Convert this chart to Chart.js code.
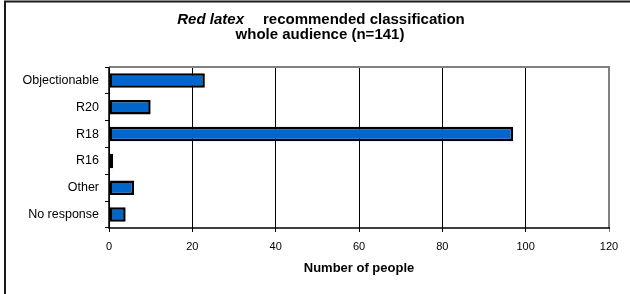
<!DOCTYPE html>
<html>
<head>
<meta charset="utf-8">
<script src="https://cdn.jsdelivr.net/npm/chart.js@4/dist/chart.umd.min.js"></script>
<style>
  html, body { margin: 0; padding: 0; background: #fff; }
  #wrap { position: relative; width: 630px; height: 294px; }
</style>
</head>
<body>
<div id="wrap"><canvas id="c" width="630" height="294"></canvas></div>
<script>
const categories = ["Objectionable", "R20", "R18", "R16", "Other", "No response"];
const values = [23, 10, 97, 1, 6, 4];
const titleItalic = "Red latex";
const titleRest = "recommended classification";
const subtitle = "whole audience (n=141)";
const xTitle = "Number of people";
const xMin = 0, xMax = 120, xStep = 20;

const FONT = "'Liberation Sans', Arial, sans-serif";
const PLOT = { left: 109, right: 609, top: 67, bottom: 228 };
const BOTTOM_PAD = 18;

const decor = {
  id: 'decor',
  beforeDraw(chart) {
    const c = chart.ctx;
    c.save();
    c.fillStyle = '#fff';
    c.fillRect(0, 0, chart.width, chart.height);
    c.strokeStyle = '#1a1a1a';
    c.lineWidth = 2;
    c.beginPath();
    c.moveTo(5, 294);
    c.lineTo(5, 1.5);
    c.lineTo(630, 1.5);
    c.stroke();
    c.restore();
  },
  afterDatasetsDraw(chart) {
    const c = chart.ctx;
    const a = chart.chartArea;
    c.save();
    c.strokeStyle = '#808080';
    c.lineWidth = 2;
    c.beginPath();
    c.moveTo(a.left, a.top);
    c.lineTo(a.right, a.top);
    c.lineTo(a.right, a.bottom);
    c.stroke();
    c.strokeStyle = '#000';
    c.lineWidth = 1.5;
    c.beginPath();
    c.moveTo(a.left, a.top);
    c.lineTo(a.left, a.bottom);
    c.lineTo(a.right + 1, a.bottom);
    c.stroke();
    c.fillStyle = '#000';
    c.textBaseline = 'alphabetic';
    c.textAlign = 'left';
    const cx = 321;
    const gap = 19;
    c.font = "italic bold 15px " + FONT;
    const w1 = c.measureText(titleItalic).width;
    c.font = "bold 15px " + FONT;
    const w2 = c.measureText(titleRest).width;
    let x = cx - (w1 + gap + w2) / 2;
    c.font = "italic bold 15px " + FONT;
    c.fillText(titleItalic, x, 24);
    c.font = "bold 15px " + FONT;
    c.fillText(titleRest, x + w1 + gap, 24);
    c.textAlign = 'center';
    c.fillText(subtitle, 320, 38.5);
    c.restore();
  }
};

new Chart(document.getElementById('c'), {
  type: 'bar',
  data: {
    labels: categories,
    datasets: [{
      data: values,
      backgroundColor: '#0066CC',
      borderColor: '#000',
      borderWidth: 2.5,
      borderSkipped: false,
      barPercentage: 0.54,
      categoryPercentage: 1.0
    }]
  },
  options: {
    indexAxis: 'y',
    responsive: false,
    animation: false,
    devicePixelRatio: 1,
    layout: { padding: { left: 0, right: 630 - PLOT.right, top: PLOT.top, bottom: BOTTOM_PAD } },
    plugins: { legend: { display: false }, tooltip: { enabled: false }, title: { display: false } },
    scales: {
      x: {
        type: 'linear',
        min: xMin, max: xMax,
        ticks: { stepSize: xStep, color: '#000', font: { family: FONT, size: 11 }, padding: 8 },
        grid: {
          color: (ctx) => (ctx.tick && ctx.tick.value === xMax) ? '#808080' : '#000',
          lineWidth: 1,
          tickLength: 4,
          drawTicks: true
        },
        border: { display: false },
        title: { display: true, text: xTitle, color: '#000', font: { family: FONT, size: 13, weight: 'bold' }, padding: { top: 0, bottom: 0 } },
        afterFit(scale) { scale.height = 294 - BOTTOM_PAD - PLOT.bottom; }
      },
      y: {
        type: 'category',
        offset: true,
        ticks: { color: '#000', font: { family: FONT, size: 12.5 }, padding: 6 },
        grid: { offset: true, drawOnChartArea: false, drawTicks: true, tickLength: 4, color: '#000', lineWidth: 1 },
        border: { display: false },
        afterFit(scale) { scale.width = PLOT.left; }
      }
    }
  },
  plugins: [decor]
});
</script>
</body>
</html>
